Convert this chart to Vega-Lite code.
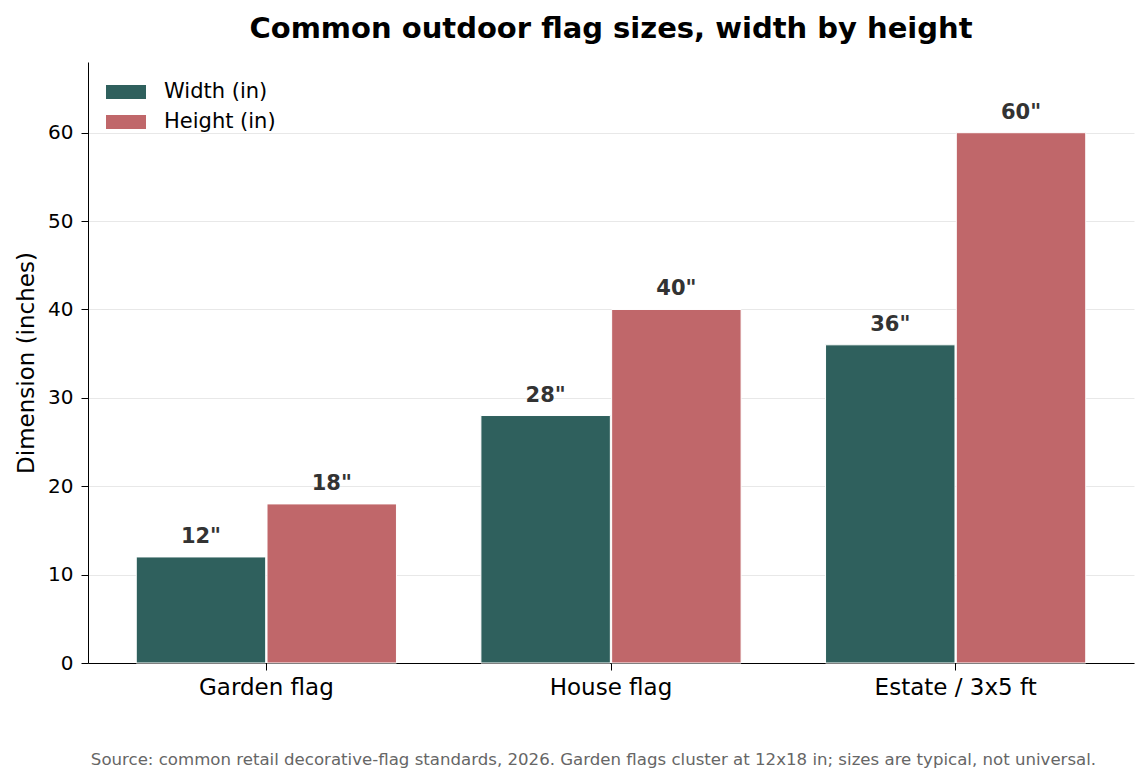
{
  "$schema": "https://vega.github.io/schema/vega-lite/v6.json",
  "autosize": {"type": "none"},
  "width": 1046,
  "height": 601,
  "padding": {"left": 88, "top": 62, "right": 14, "bottom": 120},
  "background": "white",
  "title": {
    "text": "Common outdoor flag sizes, width by height",
    "font": "DejaVu Sans",
    "fontSize": 29,
    "fontWeight": "bold",
    "color": "#000000",
    "anchor": "middle",
    "offset": 18
  },
  "data": {
    "values": [
      {"flag": "Garden flag", "dim": "Width (in)", "value": 12},
      {"flag": "Garden flag", "dim": "Height (in)", "value": 18},
      {"flag": "House flag", "dim": "Width (in)", "value": 28},
      {"flag": "House flag", "dim": "Height (in)", "value": 40},
      {"flag": "Estate / 3x5 ft", "dim": "Width (in)", "value": 36},
      {"flag": "Estate / 3x5 ft", "dim": "Height (in)", "value": 60}
    ]
  },
  "transform": [
    {"calculate": "datum.value + '\"'", "as": "label"}
  ],
  "encoding": {
    "x": {
      "field": "flag",
      "type": "nominal",
      "sort": ["Garden flag", "House flag", "Estate / 3x5 ft"],
      "scale": {"paddingInner": 0.245, "paddingOuter": 0.14},
      "axis": {
        "title": "Source: common retail decorative-flag standards, 2026. Garden flags cluster at 12x18 in; sizes are typical, not universal.",
        "titleFont": "DejaVu Sans",
        "titleFontSize": 16.6,
        "titleFontWeight": "normal",
        "titleColor": "#666666",
        "titlePadding": 52,
        "titleX": 505,
        "labelAngle": 0,
        "labelFontSize": 23,
        "labelPadding": 6,
        "labelColor": "#000000",
        "tickColor": "#000000",
        "tickSize": 7,
        "domainColor": "#000000"
      }
    },
    "xOffset": {
      "field": "dim",
      "type": "nominal",
      "sort": ["Width (in)", "Height (in)"],
      "scale": {"paddingInner": 0.01}
    },
    "y": {
      "field": "value",
      "type": "quantitative",
      "scale": {"domain": [0, 68], "nice": false},
      "axis": {
        "title": "Dimension (inches)",
        "titleFontSize": 23,
        "titleFontWeight": "normal",
        "titleColor": "#000000",
        "titlePadding": 9,
        "values": [0, 10, 20, 30, 40, 50, 60],
        "labelFontSize": 20,
        "labelColor": "#000000",
        "labelPadding": 8,
        "tickColor": "#000000",
        "tickSize": 7,
        "domainColor": "#000000",
        "grid": true,
        "gridColor": "#e8e8e8"
      }
    },
    "color": {
      "field": "dim",
      "type": "nominal",
      "sort": ["Width (in)", "Height (in)"],
      "scale": {"domain": ["Width (in)", "Height (in)"], "range": ["#2f605d", "#c0676a"]},
      "legend": {
        "title": null,
        "orient": "none",
        "legendX": 18,
        "legendY": 10,
        "labelFontSize": 21,
        "labelColor": "#000000",
        "symbolType": "M-1,-0.35L1,-0.35L1,0.35L-1,0.35Z",
        "symbolSize": 1600,
        "symbolStrokeWidth": 0,
        "symbolOpacity": 1,
        "rowPadding": -10,
        "labelOffset": 18
      }
    }
  },
  "layer": [
    {
      "mark": {"type": "bar", "stroke": "white", "strokeWidth": 1}
    },
    {
      "mark": {"type": "text", "dy": -20, "fontSize": 21, "fontWeight": "bold", "color": "#333333"},
      "encoding": {
        "text": {"field": "label"},
        "color": {"value": "#333333"}
      }
    }
  ],
  "config": {
    "font": "DejaVu Sans",
    "view": {"stroke": null},
    "axisX": {"grid": false}
  }
}
